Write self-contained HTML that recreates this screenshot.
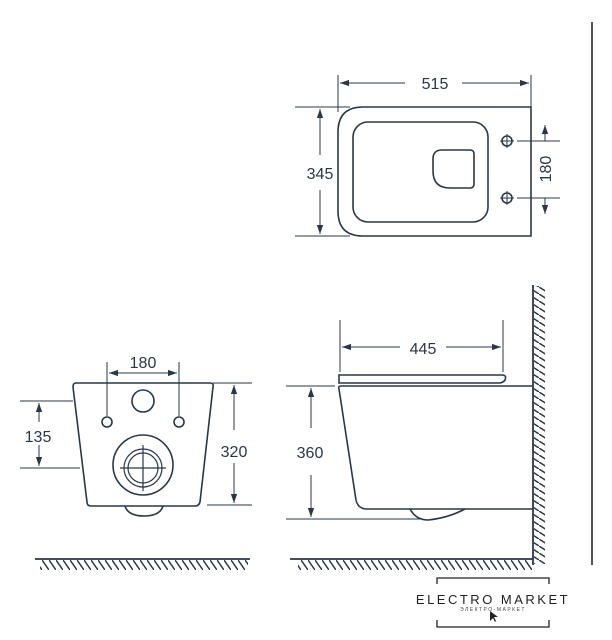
<!DOCTYPE html>
<html><head><meta charset="utf-8"><style>
html,body{margin:0;padding:0;background:#fff;}
svg{display:block;}
text{font-family:"Liberation Sans",sans-serif;fill:#2a3748;}
</style></head><body>
<svg width="612" height="640" viewBox="0 0 612 640" xmlns="http://www.w3.org/2000/svg">
<defs>
<marker id="a" viewBox="0 0 10 10" refX="10" refY="5" markerWidth="9" markerHeight="9" orient="auto-start-reverse" markerUnits="userSpaceOnUse"><path d="M0,1.5 L10,5 L0,8.5 z" fill="#2a3748"/></marker>
<pattern id="hf" width="7" height="10" patternUnits="userSpaceOnUse"><line x1="0" y1="0" x2="7" y2="10" stroke="#2a3748" stroke-width="1.5"/></pattern>
<pattern id="hw" width="11" height="7" patternUnits="userSpaceOnUse"><line x1="0" y1="0" x2="11" y2="7" stroke="#2a3748" stroke-width="1.5"/></pattern>
</defs>
<g fill="none" stroke="#2a3748" stroke-width="1.6">
<path d="M363,107 H531 V236 H363 Q338,236 338,211 V132 Q338,107 363,107 Z"/>
<rect x="353" y="122" width="135" height="100" rx="15"/>
<path d="M442,150 H470 Q474,150 474,154 V184 Q474,188 470,188 H450 Q433,188 433,171 V159 Q433,150 442,150 Z"/>
<circle cx="507" cy="141" r="5"/><circle cx="507" cy="198" r="5"/>
</g>
<g stroke="#2a3748" stroke-width="1" fill="none">
<line x1="500" y1="141" x2="514" y2="141"/><line x1="507" y1="134" x2="507" y2="148"/>
<line x1="500" y1="198" x2="514" y2="198"/><line x1="507" y1="191" x2="507" y2="205"/>
<line x1="338" y1="75" x2="338" y2="112"/><line x1="531" y1="75" x2="531" y2="107"/>
<line x1="340" y1="83" x2="405" y2="83" marker-start="url(#a)"/><line x1="462" y1="83" x2="529" y2="83" marker-end="url(#a)"/>
<line x1="295" y1="107" x2="350" y2="107"/><line x1="295" y1="236" x2="350" y2="236"/>
<line x1="320" y1="109" x2="320" y2="155" marker-start="url(#a)"/><line x1="320" y1="190" x2="320" y2="234" marker-end="url(#a)"/>
<line x1="517" y1="141" x2="560" y2="141"/><line x1="517" y1="198" x2="560" y2="198"/>
<line x1="545" y1="141" x2="545" y2="125" marker-end="url(#a)"/><line x1="545" y1="198" x2="545" y2="214" marker-end="url(#a)"/>
</g>
<text x="435" y="89" font-size="16" text-anchor="middle">515</text>
<text x="320" y="179" font-size="16" text-anchor="middle">345</text>
<text x="551" y="169" font-size="16" text-anchor="middle" transform="rotate(-90 551 169)">180</text>

<g fill="none" stroke="#2a3748" stroke-width="1.6">
<path d="M76,383 H210 Q214,383 213,387 L200,502 Q199,506 195,506 H91 Q87,506 87,502 L73,387 Q73,383 76,383 Z"/>
<path d="M125,506 Q128,516 144,516 Q160,516 163,506"/>
<circle cx="143" cy="401" r="11"/>
<circle cx="107" cy="422" r="5"/><circle cx="179" cy="422" r="5"/>
<circle cx="143" cy="465" r="30"/>
</g>
<g fill="none" stroke="#2a3748" stroke-width="1.2">
<circle cx="143" cy="468" r="19"/><circle cx="143" cy="468" r="15"/>
<line x1="120" y1="468" x2="166" y2="468"/><line x1="143" y1="445" x2="143" y2="491"/>
</g>
<g stroke="#2a3748" stroke-width="1" fill="none">
<line x1="107" y1="362" x2="107" y2="416"/><line x1="179" y1="362" x2="179" y2="416"/>
<line x1="109" y1="373" x2="177" y2="373" marker-start="url(#a)" marker-end="url(#a)"/>
<line x1="20" y1="401" x2="73" y2="401"/><line x1="20" y1="468" x2="80" y2="468"/>
<line x1="39" y1="403" x2="39" y2="422" marker-start="url(#a)"/><line x1="39" y1="445" x2="39" y2="466" marker-end="url(#a)"/>
<line x1="213" y1="383" x2="252" y2="383"/><line x1="207" y1="505" x2="252" y2="505"/>
<line x1="234" y1="385" x2="234" y2="430" marker-start="url(#a)"/><line x1="234" y1="463" x2="234" y2="503" marker-end="url(#a)"/>
</g>
<text x="143" y="368" font-size="16" text-anchor="middle">180</text>
<text x="38" y="442" font-size="16" text-anchor="middle">135</text>
<text x="234" y="457" font-size="16" text-anchor="middle">320</text>
<line x1="35" y1="559" x2="250" y2="559" stroke="#2a3748" stroke-width="1.8"/>
<rect x="40" y="560" width="208" height="10" fill="url(#hf)"/>

<line x1="533" y1="285" x2="533" y2="565" stroke="#2a3748" stroke-width="1.8"/>
<rect x="534" y="286" width="11" height="278" fill="url(#hw)"/>
<line x1="290" y1="559" x2="533" y2="559" stroke="#2a3748" stroke-width="1.8"/>
<rect x="298" y="560" width="234" height="10" fill="url(#hf)"/>
<g fill="none" stroke="#2a3748" stroke-width="1.6">
<path d="M533,386 H341 Q338,386 339,389 L356,500 Q358,509 367,509 H533"/>
<path d="M410,509 Q416,520 428,520 Q448,518 465,509"/>
<path d="M339,375 H502 Q507,375 505,380 Q503,383 499,383 H339 Z"/>
</g>
<g stroke="#2a3748" stroke-width="1" fill="none">
<line x1="340" y1="320" x2="340" y2="372"/><line x1="503" y1="320" x2="503" y2="372"/>
<line x1="342" y1="347" x2="400" y2="347" marker-start="url(#a)"/><line x1="446" y1="347" x2="501" y2="347" marker-end="url(#a)"/>
<line x1="286" y1="386" x2="335" y2="386"/><line x1="286" y1="519" x2="420" y2="519"/>
<line x1="311" y1="388" x2="311" y2="428" marker-start="url(#a)"/><line x1="311" y1="475" x2="311" y2="517" marker-end="url(#a)"/>
</g>
<text x="423" y="354" font-size="16" text-anchor="middle">445</text>
<text x="310" y="458" font-size="16" text-anchor="middle">360</text>
<line x1="592" y1="22" x2="592" y2="565" stroke="#1a1a1a" stroke-width="1.5"/>

<g fill="none" stroke="#222" stroke-width="1.3">
<path d="M437,584 V578 H549 V584"/>
<path d="M437,620 V627 H549 V620"/>
</g>
<text x="493" y="604" font-size="13" text-anchor="middle" letter-spacing="2.5" style="fill:#222">ELECTRO MARKET</text>
<text x="493" y="611" font-size="5" text-anchor="middle" letter-spacing="1.5" style="fill:#444">ЭЛЕКТРО-МАРКЕТ</text>
<path d="M490,611 L490,621 L493,618 L495,622 L496,621 L494,617 L498,617 Z" fill="#222"/>
</svg>
</body></html>
